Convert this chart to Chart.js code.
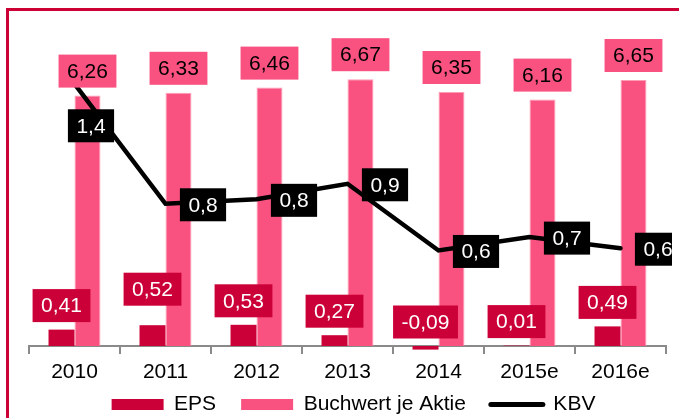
<!DOCTYPE html>
<html><head><meta charset="utf-8">
<script src="https://cdn.jsdelivr.net/npm/chart.js@4.4.1/dist/chart.umd.min.js"></script>
<style>
html,body{margin:0;padding:0;background:#fff;overflow:hidden;}
#wrap{position:relative;width:679px;height:418px;overflow:hidden;}
#c{position:absolute;left:0;top:0;}
#frame{position:absolute;left:6px;top:8px;width:900px;height:600px;border:3px solid #CC0035;pointer-events:none;}
</style></head><body>
<div id="wrap"><canvas id="c" width="679" height="418"></canvas><div id="frame"></div></div>
<script>
const categories = ['2010', '2011', '2012', '2013', '2014', '2015e', '2016e'];
const eps = [0.41, 0.52, 0.53, 0.27, -0.09, 0.01, 0.49];
const buchwert = [6.26, 6.33, 6.46, 6.67, 6.35, 6.16, 6.65];
const kbv = [1.36, 0.82, 0.84, 0.91, 0.61, 0.67, 0.62];
const seriesNames = ['EPS', 'Buchwert je Aktie', 'KBV'];

const FONT = '"Liberation Sans", Arial, Helvetica, sans-serif';
const C_EPS = '#CC0038';
const C_BW = '#FA5280';

const valueLabels = {
  id: 'valueLabels',
  afterDatasetsDraw(chart, args, opts) {
    const ctx = chart.ctx;
    ctx.save();
    ctx.beginPath();
    ctx.rect(0, 0, opts.clipRight, chart.height);
    ctx.clip();
    ctx.font = opts.fontSize + 'px ' + FONT;
    ctx.textAlign = 'center';
    ctx.textBaseline = 'middle';
    chart.data.datasets.forEach((ds, di) => {
      const meta = chart.getDatasetMeta(di);
      const st = opts.styles[di];
      meta.data.forEach((el, i) => {
        const v = ds.data[i];
        const text = v.toFixed(st.decimals).replace('.', ',');
        const tw = ctx.measureText(text).width;
        const w = tw + 2 * opts.padX, h = opts.boxHeight;
        let cx, cy;
        const nudge = (st.nudge && st.nudge[i]) || null;
        if (st.kind === 'bar') {
          const top = Math.min(el.y, el.base);
          cx = el.x + (nudge ? nudge[0] : 0);
          cy = top - st.gap - h / 2 + (nudge ? nudge[1] : 0);
        } else {
          const off = nudge || st.offset;
          cx = el.x + off[0];
          cy = el.y + off[1];
        }
        ctx.fillStyle = st.bg;
        ctx.fillRect(cx - w / 2, cy - h / 2, w, h);
        ctx.fillStyle = st.color;
        ctx.fillText(text, cx, cy + opts.textDy);
      });
    });
    ctx.restore();
  }
};

const legendShift = {
  id: 'legendShift',
  afterLayout(chart, args, opts) {
    if (chart.legend) {
      chart.legend.top += opts.dy;
      chart.legend.bottom += opts.dy;
      chart.legend.left += opts.dx;
      chart.legend.right += opts.dx;
    }
  }
};

new Chart(document.getElementById('c'), {
  data: {
    labels: categories,
    datasets: [
      { type: 'bar', label: seriesNames[0], data: eps, backgroundColor: C_EPS, yAxisID: 'y', order: 1 },
      { type: 'bar', label: seriesNames[1], data: buchwert, backgroundColor: C_BW, borderColor: '#FF9DB7', borderWidth: 1, yAxisID: 'y', order: 1 },
      { type: 'line', label: seriesNames[2], data: kbv, borderColor: '#000', backgroundColor: '#000', borderWidth: 4.5,
        pointRadius: 0, tension: 0, yAxisID: 'y2', order: 0, borderCapStyle: 'round' }
    ]
  },
  options: {
    responsive: false,
    animation: false,
    devicePixelRatio: 1,
    layout: { padding: { left: 29, right: 13, top: 26, bottom: -24 } },
    datasets: { bar: { categoryPercentage: 0.571, barPercentage: 1, clip: false } },
    scales: {
      x: {
        position: { y: 0 },
        offset: true,
        grid: { offset: true, drawOnChartArea: false, drawTicks: true, tickLength: 7, lineWidth: 2, color: '#8A8A8A' },
        border: { color: '#8A8A8A', width: 2 },
        ticks: { color: '#000', font: { size: 21, family: FONT }, padding: 7, maxRotation: 0, autoSkip: false }
      },
      y: { display: false, min: -1, max: 8 },
      y2: { display: false, min: 0, max: 1.62, position: 'right' }
    },
    plugins: {
      tooltip: { enabled: false },
      legend: {
        position: 'bottom',
        labels: {
          font: { size: 21, family: FONT },
          color: '#000',
          usePointStyle: true,
          pointStyleWidth: 52,
          boxHeight: 11,
          padding: 25,
          sort: (a, b) => a.datasetIndex - b.datasetIndex,
          generateLabels(chart) {
            const items = Chart.defaults.plugins.legend.labels.generateLabels(chart);
            items.forEach(it => {
              const ds = chart.data.datasets[it.datasetIndex];
              if (ds.type === 'line') {
                it.pointStyle = 'line'; it.strokeStyle = '#000'; it.lineWidth = 5; it.lineCap = 'round';
              } else {
                it.pointStyle = 'rect'; it.lineWidth = 0; it.strokeStyle = it.fillStyle;
              }
            });
            return items;
          }
        }
      },
      legendShift: { dy: -17, dx: 6 },
      valueLabels: {
        fontSize: 21, padX: 8.5, boxHeight: 33, textDy: 1, clipRight: 672,
        styles: [
          { kind: 'bar', decimals: 2, bg: C_EPS, color: '#fff', gap: 7.5, nudge: { 1: [0, -12] } },
          { kind: 'bar', decimals: 2, bg: C_BW, color: '#000', gap: 8 },
          { kind: 'line', decimals: 1, bg: '#000', color: '#fff', offset: [37.5, 1], nudge: { 0: [16.5, 42] } }
        ]
      }
    }
  },
  plugins: [valueLabels, legendShift]
});
</script>
</body></html>
